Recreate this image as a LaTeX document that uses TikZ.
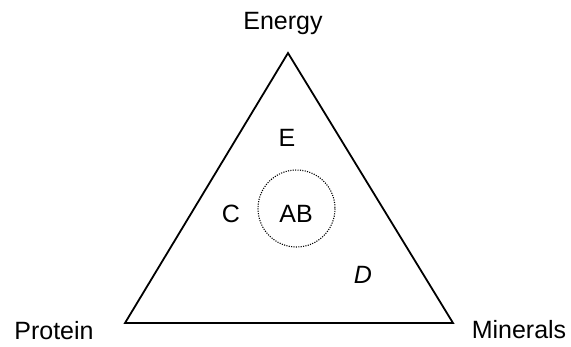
\documentclass[tikz,border=0pt]{standalone}
\usepackage{fontspec}
\setmainfont{Liberation Sans}
\tikzset{
  lbl/.style={inner sep=0pt,anchor=base,font=\fontsize{25}{27}\selectfont},
  dotring/.style={line width=1.1pt,dash pattern=on 1.1pt off 1.3pt}
}
\begin{document}
\begin{tikzpicture}[x=1pt,y=-1pt,line width=1.8pt]
\useasboundingbox (0,0) rectangle (571,346);
\coordinate (top) at (288,53);
\coordinate (left) at (125,323);
\coordinate (right) at (453,323);
\draw[line join=miter] (top) -- (left) -- (right) -- cycle;
\node[lbl] (energy) at (283,29) {Energy};
\node[lbl] (protein) at (54,339) {Protein};
\node[lbl] (minerals) at (519,338) {Minerals};
\node[lbl] (e) at (287,146) {E};
\node[lbl] (c) at (231,222) {C};
\node[lbl] (ab) at (296,222) {AB};
\node[lbl] (d) at (363,283) {\itshape D};
\draw[dotring] (296.5,208.5) circle (38.5);
\end{tikzpicture}
\end{document}
